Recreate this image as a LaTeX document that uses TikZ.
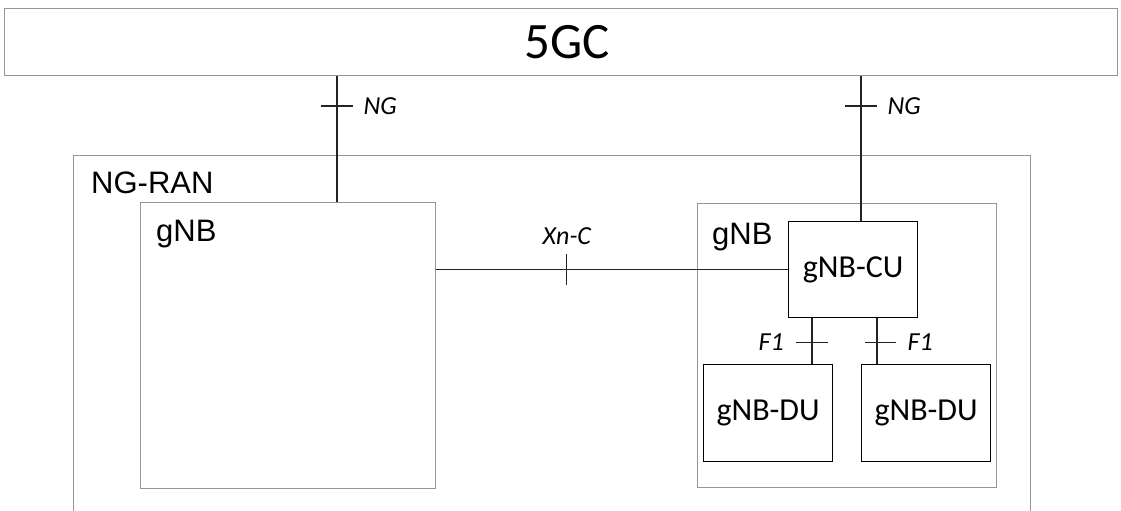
\documentclass[tikz,border=0pt]{standalone}
\usepackage{fontspec}
\setmainfont{Carlito}
\newfontfamily\arialfont{Liberation Sans}
\usetikzlibrary{positioning}
\definecolor{boxgrey}{RGB}{150,150,150}
\definecolor{linegrey}{RGB}{35,35,35}

\begin{document}
\begin{tikzpicture}[x=1pt, y=-1pt,
  outer/.style={
    rectangle, draw=boxgrey, line width=1.4pt, anchor=north west, inner sep=0pt
  },
  unit/.style={
    rectangle, draw=black, line width=1.2pt, anchor=north west, inner sep=0pt,
    minimum width=129pt, font=\fontsize{32}{32}\selectfont
  },
  tag/.style={font=\arialfont\fontsize{31}{31}\selectfont, inner sep=0pt},
  iface/.style={font=\itshape\fontsize{26}{26}\selectfont, inner sep=0pt},
  link/.style={draw=linegrey, line width=1.2pt}
]
  \useasboundingbox (0,0) rectangle (1121,511);
  \clip (0,0) rectangle (1121,511);

  % boxes
  \node[outer, minimum width=1113pt, minimum height=67pt] (core) at (4,8) {};
  \node[font=\fontsize{51}{51}\selectfont, xshift=6pt] at (core) {5GC};
  \node[outer, minimum width=957pt, minimum height=420pt] (ran) at (73,155) {};
  \node[outer, minimum width=295pt, minimum height=286pt] (gnbL) at (140,202) {};
  \node[outer, minimum width=299pt, minimum height=284pt] (gnbR) at (697,203) {};
  \node[unit, minimum height=96pt] (cu)  at (788,221) {gNB-CU};
  \node[unit, minimum height=97pt] (duL) at (703,364) {gNB-DU};
  \node[unit, minimum height=97pt] (duR) at (861,364) {gNB-DU};

  \node[tag, below right=17pt and 18pt of ran.north west]  {NG-RAN};
  \node[tag, below right=18pt and 16pt of gnbL.north west] {gNB};
  \node[tag, below right=20pt and 15pt of gnbR.north west] {gNB};

  % interfaces
  \coordinate (ngL) at (337,0);
  \coordinate (ngR) at (861,0);
  \coordinate (f1L) at (812,0);
  \coordinate (f1R) at (877,0);

  \draw[link] (core.south -| ngL) -- coordinate[pos=0.236] (ngLt) (gnbL.north -| ngL);
  \draw[link] (core.south -| ngR) -- coordinate[pos=0.205] (ngRt) (cu.north -| ngR);
  \draw[link] (cu.west -| gnbL.east) -- coordinate[pos=0.371] (xnt) (cu.west);
  \draw[link] (cu.south -| f1L) -- coordinate[pos=0.53] (f1Lt) (duL.north -| f1L);
  \draw[link] (cu.south -| f1R) -- coordinate[pos=0.53] (f1Rt) (duR.north -| f1R);

  \foreach \t in {ngLt,ngRt} {
    \draw[link] ([xshift=-16pt]\t) -- ([xshift=16pt]\t) node[iface, right=10pt] {NG};
  }
  \draw[link] ([yshift=-15pt]xnt) -- ([yshift=16pt]xnt);
  \node[iface, above=10pt of xnt, yshift=15pt] {Xn-C};
  \draw[link] ([xshift=-16pt]f1Lt) -- ([xshift=16pt]f1Lt);
  \node[iface, left=28pt of f1Lt] {F1};
  \draw[link] ([xshift=-12pt]f1Rt) -- ([xshift=19pt]f1Rt) node[iface, right=11pt] {F1};
\end{tikzpicture}
\end{document}
